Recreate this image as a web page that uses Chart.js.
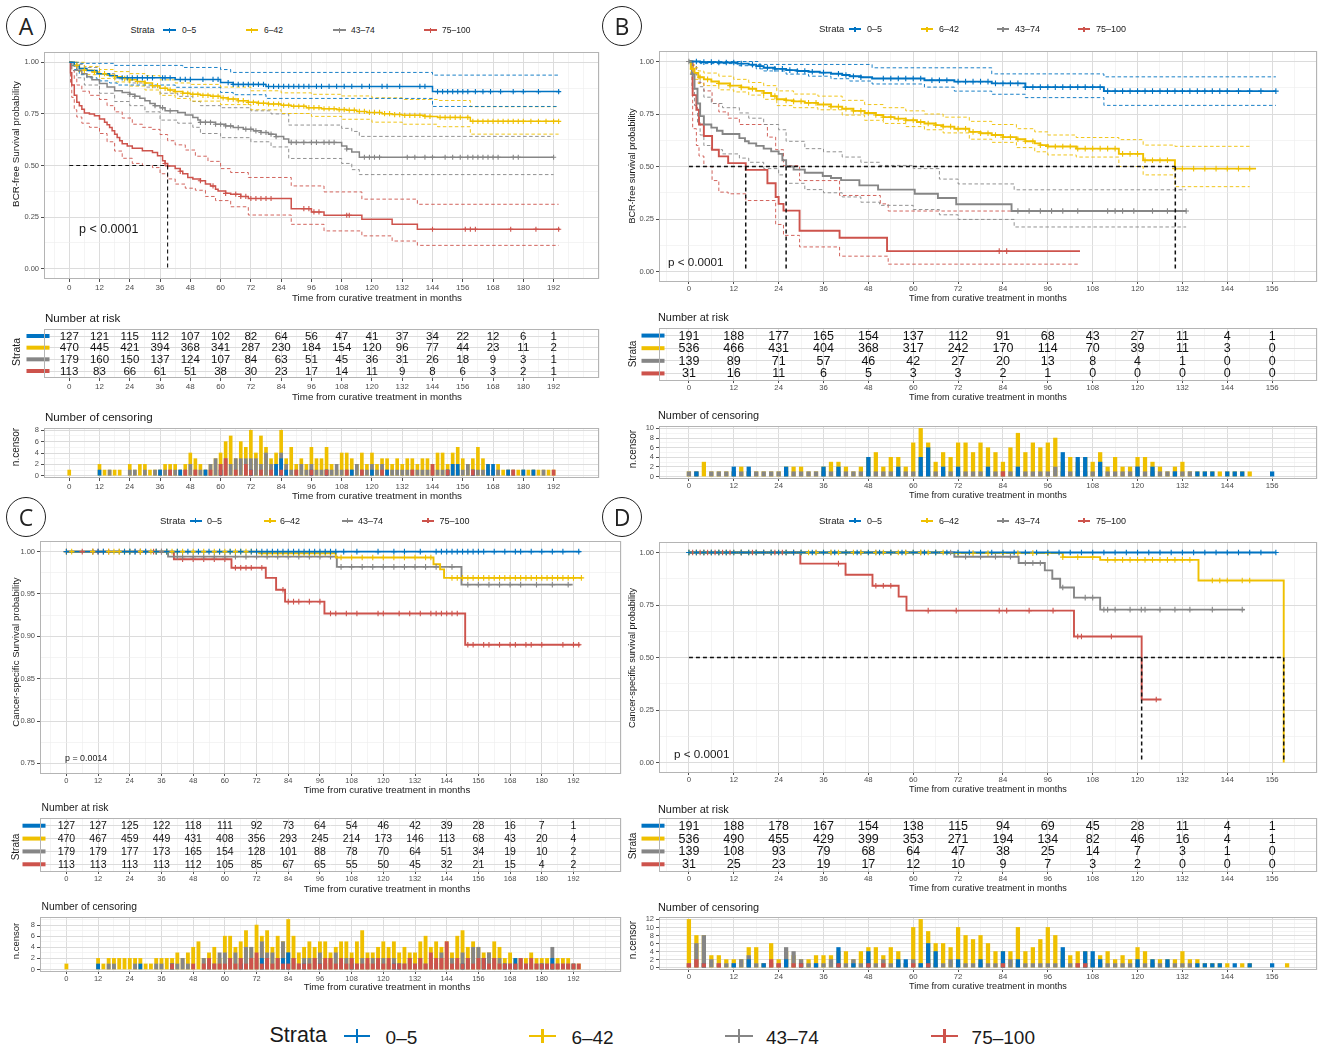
<!DOCTYPE html>
<html>
<head>
<meta charset="utf-8">
<script src="https://cdn.jsdelivr.net/npm/chart.js@4.4.1/dist/chart.umd.min.js"></script>
<style>
  body { margin: 0; background: #fff; width: 1322px; height: 1047px; position: relative; overflow: hidden;
         font-family: "Liberation Sans", Arial, Helvetica, sans-serif; }
  .box { position: absolute; }
  .t { position: absolute; white-space: nowrap; line-height: 1; color: #1a1a1a; }
  .circ { position: absolute; width: 40px; height: 40px; border: 1.2px solid #222; border-radius: 50%;
          display: flex; align-items: center; justify-content: center; box-sizing: border-box;
          font-family: "Open Sans", sans-serif; font-size: 23px; color: #222; }
  .key { position: absolute; }
</style>
</head>
<body>
<script>
// strata colours (JCO palette) and names
const COLORS = ['#0073C2', '#EFC000', '#868686', '#CD534C'];
const STRATA = ['0–5', '6–42', '43–74', '75–100'];
const FONT = '"Liberation Sans", Arial, Helvetica, sans-serif';
const GRID_MAJOR = '#dcdcdc';
const GRID_MINOR = '#ededed';

// tick labels
const xTicksLong = [0, 12, 24, 36, 48, 60, 72, 84, 96, 108, 120, 132, 144, 156, 168, 180, 192];
const xTicksShort = [0, 12, 24, 36, 48, 60, 72, 84, 96, 108, 120, 132, 144, 156];
const survTicks = [0, 0.25, 0.5, 0.75, 1];
const cssTicksC = [0.75, 0.8, 0.85, 0.9, 0.95, 1];

// ---------- Panel A: BCR-free survival (KM steps as [month, survival]) ----------
const aBlue = [[0,1],[2,0.985],[4,0.97],[7,0.96],[11,0.945],[16,0.935],[19,0.925],[42,0.917],[60,0.902],[65,0.893],[78,0.883],[144,0.858],[194.5,0.858]];
const aYellow = [[0,1],[2,0.985],[4,0.97],[6,0.962],[9,0.953],[12,0.945],[15,0.937],[18,0.93],[21,0.922],[24,0.915],[27,0.907],[30,0.9],[33,0.887],[36,0.874],[39,0.866],[42,0.858],[45,0.85],[48,0.845],[52,0.84],[56,0.835],[60,0.828],[63,0.822],[67,0.814],[71,0.806],[75,0.802],[79,0.798],[84,0.792],[88,0.787],[94,0.78],[100,0.775],[106,0.771],[110,0.768],[114,0.762],[118,0.757],[124,0.751],[128,0.747],[132,0.743],[141,0.738],[146,0.733],[159,0.714],[194,0.714]];
const aGrey = [[0,1],[1,0.985],[3,0.962],[5,0.945],[7,0.93],[9,0.915],[12,0.897],[15,0.88],[18,0.862],[21,0.854],[24,0.845],[26,0.835],[28,0.826],[30,0.814],[32,0.8],[34,0.79],[36,0.78],[38,0.765],[43,0.757],[46,0.745],[49,0.733],[51,0.72],[52,0.709],[58,0.7],[62,0.692],[65,0.684],[69,0.676],[73,0.668],[76,0.66],[79,0.652],[82,0.64],[85,0.628],[87,0.612],[108,0.595],[110,0.58],[112,0.565],[115,0.54],[192,0.54]];
const aRed = [[0,1],[0.5,0.95],[1,0.89],[2,0.84],[3,0.806],[4,0.79],[5,0.773],[6,0.755],[8,0.749],[10,0.741],[12,0.725],[14,0.709],[15,0.697],[16,0.684],[17,0.668],[18,0.652],[19,0.636],[20,0.62],[21,0.605],[23,0.595],[25,0.583],[29,0.571],[33,0.563],[35,0.547],[37,0.523],[38,0.51],[39,0.498],[42,0.485],[44,0.472],[45,0.46],[47,0.442],[49,0.434],[52,0.426],[54,0.41],[56,0.401],[58,0.385],[59,0.377],[62,0.365],[64,0.361],[68,0.35],[71,0.34],[88,0.291],[96,0.275],[101,0.259],[116,0.239],[128,0.215],[138,0.191],[194.5,0.191]];
const aBlueUp = [[0,1],[4,0.995],[18,0.985],[45,0.975],[60,0.965],[64,0.951],[144,0.938],[194,0.938]];
const aBlueLo = [[0,1],[2,0.965],[4,0.94],[7,0.925],[11,0.91],[16,0.9],[19,0.89],[42,0.879],[60,0.854],[65,0.843],[78,0.825],[144,0.786],[194,0.786]];
const aYellowUp = [[0,1],[6,0.98],[12,0.965],[18,0.955],[24,0.945],[30,0.935],[36,0.915],[42,0.9],[48,0.893],[60,0.88],[72,0.862],[84,0.852],[96,0.845],[108,0.837],[120,0.828],[132,0.82],[146,0.815],[159,0.785],[194,0.785]];
const aYellowLo = [[0,1],[3,0.955],[6,0.94],[12,0.922],[18,0.905],[24,0.885],[30,0.866],[36,0.84],[42,0.825],[48,0.812],[60,0.795],[72,0.77],[84,0.752],[96,0.738],[108,0.724],[120,0.71],[132,0.7],[146,0.688],[159,0.652],[194,0.652]];
const aGreyUp = [[0,1],[3,0.99],[6,0.975],[12,0.945],[18,0.92],[24,0.9],[30,0.88],[36,0.85],[43,0.835],[49,0.81],[52,0.79],[60,0.78],[72,0.765],[80,0.75],[87,0.696],[108,0.68],[112,0.665],[115,0.641],[192,0.641]];
const aGreyLo = [[0,1],[1,0.96],[3,0.925],[6,0.89],[12,0.85],[18,0.81],[24,0.79],[30,0.76],[36,0.72],[43,0.705],[49,0.685],[52,0.655],[60,0.635],[72,0.615],[80,0.59],[87,0.534],[108,0.51],[112,0.48],[115,0.456],[192,0.456]];
const aRedUp = [[0,1],[1,0.96],[2,0.92],[3,0.89],[5,0.86],[8,0.84],[12,0.82],[15,0.79],[18,0.76],[21,0.73],[25,0.7],[29,0.685],[33,0.675],[36,0.65],[39,0.62],[42,0.6],[46,0.575],[50,0.545],[55,0.52],[60,0.485],[64,0.466],[71,0.442],[88,0.401],[101,0.372],[116,0.337],[138,0.312],[194,0.312]];
const aRedLo = [[0,1],[0.5,0.9],[1,0.83],[2,0.77],[3,0.735],[5,0.705],[8,0.685],[12,0.655],[15,0.615],[18,0.57],[21,0.535],[25,0.51],[29,0.5],[33,0.49],[36,0.46],[39,0.435],[42,0.41],[46,0.39],[50,0.38],[54,0.35],[58,0.33],[64,0.3],[71,0.26],[88,0.215],[101,0.183],[116,0.159],[128,0.134],[138,0.113],[194,0.113]];
const aCensBlue = [21,23,25,27,29,31,33,37,38,40,44,46,48,53,57,59,63,65,67,69,71,73,75,77,79,81,83,85,87,89,91,93,95,98,100,103,106,109,112,116,119,124,126,131,139,141,146,148,150,152,154,156,158,161,164,167,171,176,180,186,194];
const aCensYellow = [3,6,10,14,18,22,24,27,30,33,35,38,40,42,45,47,49,51,53,55,57,59,61,63,65,67,69,71,73,75,77,79,81,83,85,87,89,91,93,95,97,99,101,103,105,107,109,111,113,115,117,119,121,123,125,127,129,131,133,135,137,139,141,143,147,149,151,153,155,158,160,162,164,166,168,170,172,174,176,178,180,183,186,189,192,194];
const aCensGrey = [24,26,34,37,40,52,54,56,58,60,62,64,67,70,72,74,76,78,80,82,88,90,93,96,98,101,103,105,110,117,119,121,123,134,137,141,144,149,152,155,158,160,162,164,166,168,170,176,178,192];
const aCensRed = [38,39,44,52,57,62,66,68,70,72,74,76,78,80,93,95,97,99,110,111,144,157,159,161,175,185,194];
const aMedians = [39];
const aRiskBlue = [127,121,115,112,107,102,82,64,56,47,41,37,34,22,12,6,1];
const aRiskYellow = [470,445,421,394,368,341,287,230,184,154,120,96,77,44,23,11,2];
const aRiskGrey = [179,160,150,137,124,107,84,63,51,45,36,31,26,18,9,3,1];
const aRiskRed = [113,83,66,61,51,38,30,23,17,14,11,9,8,6,3,2,1];
// censoring counts per 2-month bin (0, 2, 4 ... months)
const aNcBlue = [0,0,0,0,0,0,1,0,0,0, 0,0,0,0,0,0,0,0,1,0, 0,0,1,0,0,0,0,1,0,0, 1,0,0,0,0,0,1,0,0,0, 0,2,3,1,0,0,0,0,1,0, 0,1,0,0,0,0,1,0,0,0, 1,0,0,1,0,0,0,0,0,0, 0,0,0,0,0,1,2,2,0,0, 1,0,0,2,2,0,0,1,0,0, 1,0,1,0,0,0,0,0];
const aNcYellow = [1,0,0,0,0,0,2,1,1,1, 1,0,2,1,2,2,1,1,1,2, 2,2,1,2,4,3,2,1,2,3, 4,6,7,3,6,5,8,4,7,5, 3,4,8,3,5,2,3,2,5,3, 3,5,2,1,4,4,3,2,4,2, 4,2,3,3,2,3,2,3,3,2, 3,3,2,4,4,2,4,5,3,2, 3,5,3,2,1,2,1,1,1,1, 1,1,1,1,1,1,1,0];
const aNcGrey = [0,0,0,0,0,0,0,0,1,0, 0,0,1,1,0,1,0,1,1,1, 1,1,1,1,2,1,1,1,2,3, 2,3,2,3,3,3,3,3,2,4, 2,2,4,2,1,1,2,1,2,1, 1,1,1,2,1,1,1,2,1,1, 2,1,2,1,1,1,1,1,1,1, 1,1,1,1,1,1,2,1,1,2, 1,1,1,1,1,1,0,1,1,0, 1,0,1,0,1,0,0,0];
const aNcRed = [0,0,0,0,0,0,0,0,0,0, 0,0,0,0,0,0,0,0,0,0, 1,0,0,1,0,1,0,0,1,0, 2,3,0,1,0,2,1,0,1,0, 1,0,1,0,0,1,0,0,1,0, 0,1,0,0,0,1,0,0,1,0, 0,0,1,0,0,0,0,0,1,0, 0,0,2,0,0,1,0,0,0,0, 1,0,0,0,0,0,0,0,1,0, 0,0,0,0,0,0,1,0];

// ---------- Panel B: BCR-free survival ----------
const bBlue = [[0,1],[3,0.997],[8,0.995],[13,0.99],[16,0.985],[18,0.978],[20,0.97],[23,0.965],[26,0.959],[29,0.955],[32,0.951],[35,0.947],[38,0.942],[41,0.936],[43,0.93],[46,0.925],[49,0.919],[63,0.911],[71,0.904],[81,0.896],[90,0.878],[111,0.859],[157,0.859]];
const bYellow = [[0,1],[0.5,0.965],[1.5,0.945],[2.5,0.925],[4,0.915],[6,0.905],[8,0.895],[11,0.885],[14,0.877],[16,0.87],[18,0.86],[20,0.85],[22,0.835],[23.5,0.82],[26,0.815],[28,0.81],[31,0.803],[34.5,0.795],[38,0.785],[41,0.775],[44,0.765],[47,0.755],[50,0.745],[52,0.735],[55,0.728],[58,0.72],[61,0.712],[63,0.705],[66,0.697],[68,0.69],[71,0.68],[75,0.665],[78,0.658],[81,0.65],[84,0.64],[87.6,0.63],[90,0.62],[92.5,0.61],[94,0.602],[96,0.595],[103.6,0.585],[115,0.56],[121.5,0.53],[130,0.49],[151.7,0.49]];
const bGrey = [[0,1],[0.8,0.94],[1.5,0.87],[2.3,0.8],[3,0.74],[4,0.7],[6,0.685],[7.5,0.67],[9,0.655],[13.5,0.635],[15,0.62],[16,0.61],[18,0.598],[20,0.585],[22,0.572],[24,0.56],[25,0.53],[26,0.5],[28,0.485],[31,0.47],[35.8,0.455],[38,0.445],[40.7,0.435],[45.6,0.41],[50.6,0.39],[60.4,0.37],[66.6,0.35],[71.5,0.32],[86.3,0.288],[133,0.288]];
const bRed = [[0,1],[1,0.84],[2,0.77],[2.7,0.7],[4,0.645],[6.2,0.58],[8,0.548],[10.5,0.516],[15.2,0.484],[21,0.42],[23.2,0.355],[24,0.322],[25.3,0.29],[29.6,0.194],[40.3,0.161],[53,0.097],[104.6,0.097]];
const bBlueUp = [[0,1],[18.5,0.986],[49,0.97],[81,0.941],[111,0.927],[157,0.927]];
const bBlueLo = [[0,1],[3,0.99],[13,0.98],[18,0.965],[20,0.955],[26,0.94],[32,0.93],[38,0.918],[43,0.907],[49,0.893],[63,0.878],[71,0.859],[81,0.844],[90,0.828],[111,0.791],[157,0.791]];
const bYellowUp = [[0,1],[0.5,0.985],[1.5,0.97],[2.5,0.955],[4,0.945],[8,0.93],[12,0.915],[16,0.9],[20,0.885],[23.5,0.86],[28,0.845],[34.5,0.835],[41,0.815],[47,0.795],[52,0.78],[58,0.765],[63,0.75],[68,0.735],[75,0.715],[81,0.7],[87.6,0.68],[92.5,0.665],[96,0.65],[103.6,0.638],[115,0.628],[121.5,0.602],[130,0.596],[150,0.596]];
const bYellowLo = [[0,1],[0.5,0.94],[1.5,0.915],[2.5,0.895],[4,0.885],[8,0.865],[12,0.855],[16,0.84],[20,0.82],[23.5,0.79],[28,0.78],[34.5,0.77],[41,0.745],[47,0.72],[52,0.705],[58,0.69],[63,0.675],[68,0.66],[75,0.63],[81,0.615],[87.6,0.59],[92.5,0.57],[96,0.555],[103.6,0.545],[115,0.5],[121.5,0.46],[130,0.404],[150,0.404]];
const bGreyUp = [[0,1],[1,0.98],[2,0.93],[3,0.88],[4,0.83],[6,0.8],[9,0.78],[13.5,0.755],[16,0.73],[20,0.7],[24,0.675],[26,0.62],[31,0.585],[36,0.57],[41,0.545],[46,0.52],[51,0.505],[60,0.49],[67,0.44],[72,0.417],[87,0.389],[133,0.389]];
const bGreyLo = [[0,1],[0.8,0.87],[1.5,0.79],[2.3,0.71],[3,0.65],[4,0.6],[6,0.58],[9,0.56],[13.5,0.54],[16,0.52],[20,0.49],[24,0.46],[26,0.42],[31,0.39],[36,0.375],[41,0.355],[46,0.33],[51,0.315],[60,0.295],[67,0.27],[72,0.248],[87,0.212],[133,0.212]];
const bRedUp = [[0,1],[1,0.98],[2,0.94],[2.7,0.9],[4,0.86],[6.2,0.8],[8,0.76],[10.5,0.73],[13.5,0.7],[21,0.64],[23.2,0.58],[25.3,0.504],[29.6,0.433],[40.3,0.362],[51.2,0.322],[53.3,0.288],[104.6,0.288]];
const bRedLo = [[0,1],[1,0.68],[2,0.6],[2.7,0.55],[4,0.5],[6.2,0.433],[8,0.378],[10.5,0.37],[15.2,0.338],[23.2,0.224],[25.3,0.172],[29.6,0.117],[40.3,0.073],[53.3,0.035],[104.6,0.035]];
const bCensBlue = [2,4,6,8,10,12,14,17,19,21,23,25,27,29,31,33,36,40,42,44,46,52,54,56,58,60,62,65,67,69,72,74,76,78,80,82,84,86,88,90,92,94,96,98,100,102,104,106,108,110,112,114,116,118,120,122,124,126,128,130,132,134,136,138,140,142,144,147,150,153,157];
const bCensYellow = [1,3,5,8,11,14,17,20,23,26,28,30,32,34,36,38,40,42,44,46,48,50,52,54,56,58,60,62,64,66,68,70,72,74,76,78,80,82,84,86,88,90,92,94,96,98,100,102,104,106,108,110,112,114,116,118,120,122,124,126,128,130,132,135,138,141,144,147,150];
const bCensGrey = [0,1,88,91,94,97,100,104,112,114,116,119,124,128,133];
const bCensRed = [83,85];
const bMedians = [15.2, 26, 130.1];
const bRiskBlue = [191,188,177,165,154,137,112,91,68,43,27,11,4,1];
const bRiskYellow = [536,466,431,404,368,317,242,170,114,70,39,11,3,0];
const bRiskGrey = [139,89,71,57,46,42,27,20,13,8,4,1,0,0];
const bRiskRed = [31,16,11,6,5,3,3,2,1,0,0,0,0,0];
const bNcBlue = [0,1,0,0,0,0,2,0,2,0, 0,0,0,2,0,0,0,0,2,0, 2,0,0,0,4,0,0,0,2,0, 0,4,6,0,2,0,2,0,0,0, 2,0,0,0,2,0,0,0,0,0, 5,0,4,4,0,3,0,0,0,0, 2,0,2,0,0,1,0,0,1,1, 1,0,1,1,1,0,0,0,1];
const bNcYellow = [1,1,3,1,1,1,1,2,1,1, 1,1,1,2,2,2,1,1,2,3, 3,2,1,2,4,5,2,4,4,2, 7,10,7,3,5,4,7,7,5,7, 6,5,3,6,9,5,7,6,7,8, 3,4,3,4,3,5,2,4,2,2, 4,4,3,2,1,2,3,1,1,1, 1,1,1,1,1,1,0,0,0];
const bNcGrey = [1,1,0,1,1,1,1,1,1,1, 1,1,1,1,1,1,1,1,1,1, 1,1,1,1,1,1,1,1,1,1, 1,1,1,1,1,1,1,1,1,1, 1,1,1,1,1,1,1,1,1,2, 1,1,1,1,1,1,1,1,1,1, 2,1,1,1,1,1,1,1,0,0, 0,0,0,0,0,0,0,0,0];
const bNcRed = [0,0,0,0,0,0,0,0,0,0, 0,0,0,0,0,0,0,0,0,0, 0,0,0,0,0,0,0,0,0,0, 0,0,0,0,0,0,0,0,0,0, 0,0,1,0,0,0,0,0,0,0, 0,0,0,0,0,0,0,0,0,0, 0,0,0,0,0,0,0,0,0,0, 0,0,0,0,0,0,0,0,0];

// ---------- Panel C: cancer-specific survival ----------
const cBlue = [[0,1],[194.6,1]];
const cYellow = [[0,1],[73,0.998],[102,0.993],[139,0.985],[141.5,0.979],[143,0.969],[195.3,0.969]];
const cGrey = [[0,1],[38.5,0.994],[102.4,0.982],[149.6,0.961],[191.7,0.961]];
const cRed = [[0,1],[40.7,0.991],[62.5,0.981],[75.5,0.969],[79.4,0.955],[82.8,0.941],[97.7,0.927],[151,0.89],[194.6,0.89]];
const cCensBlue = [0,12,14,22,24,26,30,34,38,42,46,50,54,58,62,66,70,72,74,76,78,80,82,84,86,88,90,92,94,96,98,100,102,105,110,118,124,128,134,140,142,144,146,148,150,152,154,156,158,162,166,170,172,176,180,184,188,194];
const cCensYellow = [0,2,10,16,18,20,22,24,28,32,34,38,40,42,44,48,52,56,58,60,62,64,66,68,70,72,74,76,78,80,82,84,86,88,90,92,94,96,98,100,104,108,112,116,120,124,128,132,136,138,146,148,150,152,154,156,158,160,162,164,166,168,170,172,174,176,178,180,182,184,186,188,190,192,195];
const cCensGrey = [10,14,20,24,26,28,30,34,36,38,42,44,48,52,56,60,64,68,72,76,80,84,88,92,96,100,104,108,112,116,120,124,128,132,136,140,146,152,156,160,164,168,172,178,184,190];
const cCensRed = [0,6,10,12,16,28,33,36,44,48,52,56,60,64,66,68,70,74,82,84,86,88,92,96,100,102,106,110,118,120,126,130,134,138,140,142,144,146,148,152,154,158,160,164,168,170,174,176,180,188,192,194];
const cRiskBlue = [127,127,125,122,118,111,92,73,64,54,46,42,39,28,16,7,1];
const cRiskYellow = [470,467,459,449,431,408,356,293,245,214,173,146,113,68,43,20,4];
const cRiskGrey = [179,179,177,173,165,154,128,101,88,78,70,64,51,34,19,10,2];
const cRiskRed = [113,113,113,113,112,105,85,67,65,55,50,45,32,21,15,4,2];
const cNcBlue = [0,0,0,0,0,0,1,0,0,0, 0,0,0,0,1,0,0,0,0,0, 1,0,0,0,0,0,0,1,0,0, 0,0,0,1,0,0,0,2,0,0, 0,2,3,0,0,1,0,0,1,0, 0,0,0,0,1,0,0,0,0,0, 0,0,1,1,0,0,0,0,0,0, 0,0,0,0,0,1,0,0,0,2, 0,0,0,1,0,2,0,0,0,0, 1,0,2,0,0,0,1,0];
const cNcYellow = [1,0,0,0,0,0,2,1,2,2, 2,2,2,2,2,1,1,2,2,2, 2,3,2,3,4,5,2,3,4,2, 6,6,4,5,7,4,8,6,7,4, 6,5,9,6,3,4,5,4,5,5, 3,4,5,5,3,5,7,3,3,4, 5,4,5,3,4,3,3,5,6,4, 5,4,5,3,6,7,4,5,4,3, 3,5,4,2,3,2,2,2,3,2, 2,2,1,2,2,2,1,1];
const cNcGrey = [0,0,0,0,0,0,0,0,1,1, 0,0,0,1,0,0,0,1,1,0, 1,1,2,1,0,0,2,0,1,3, 3,2,3,2,4,4,2,5,3,3, 2,5,3,2,1,2,2,2,3,1, 2,3,1,2,2,1,2,1,2,1, 2,1,2,1,1,2,1,2,1,2, 1,3,2,2,1,3,2,4,4,2, 3,2,2,1,1,1,2,1,1,1, 1,1,4,1,1,1,0,0];
const cNcRed = [0,0,0,0,0,0,0,0,0,0, 0,0,0,0,0,0,0,0,0,0, 1,0,0,0,1,0,1,2,1,1, 1,2,1,2,1,2,3,1,2,1, 2,1,1,2,1,1,1,2,1,2, 2,1,2,1,2,1,1,2,1,2, 1,2,1,1,1,2,1,2,1,3, 2,2,5,1,2,1,2,1,2,2, 1,2,1,1,1,1,2,1,2,1, 1,1,1,1,1,1,1,1];

// ---------- Panel D: cancer-specific survival ----------
const dBlue = [[0,1],[157,1]];
const dYellow = [[0,1],[69,0.997],[100,0.978],[110,0.965],[136.3,0.867],[159.1,0]];
const dGrey = [[0,1],[71,0.98],[88.2,0.95],[95.2,0.915],[97.2,0.875],[99.3,0.833],[103,0.785],[110,0.728],[148.6,0.728]];
const dRed = [[0,1],[29.8,0.947],[41.9,0.894],[49.1,0.842],[56.1,0.79],[58.2,0.723],[103,0.6],[121.1,0.3],[126.4,0.3]];
const dCensBlue = [0,2,4,6,8,10,12,14,16,18,20,22,24,26,28,30,33,36,39,42,45,48,51,54,57,60,63,66,69,72,75,78,81,84,87,90,93,96,99,102,105,108,111,114,117,120,123,126,129,132,135,138,141,144,147,150,153,157];
const dCensYellow = [0,2,4,6,8,10,12,14,16,18,20,22,24,26,28,30,32,34,36,38,40,42,44,46,48,50,52,54,56,58,60,62,64,66,68,72,76,80,84,88,92,96,100,104,108,112,114,116,118,120,122,124,126,128,130,132,134,140,142,144,148,150];
const dCensGrey = [0,2,4,6,8,10,14,18,22,26,30,34,38,42,46,50,54,58,62,66,70,74,78,82,86,90,92,94,100,106,108,111,112,114,118,121,122,126,130,134,140,148];
const dCensRed = [1,3,5,7,9,11,14,17,20,23,25,28,40,50,52,54,64,71.5,83,85,91,97.4,104,105,113,125];
const dMedians = [121.1, 159.1];
const dRiskBlue = [191,188,178,167,154,138,115,94,69,45,28,11,4,1];
const dRiskYellow = [536,490,455,429,399,353,271,194,134,82,46,16,4,1];
const dRiskGrey = [139,108,93,79,68,64,47,38,25,14,7,3,1,0];
const dRiskRed = [31,25,23,19,17,12,10,9,7,3,2,0,0,0];
const dNcBlue = [0,0,1,0,0,0,1,0,2,0, 1,0,0,2,0,1,0,1,0,0, 5,0,1,0,4,0,0,0,2,2, 0,1,6,4,0,0,2,0,0,2, 0,0,4,0,2,0,0,0,0,0, 5,0,0,4,4,2,0,0,0,0, 2,0,2,0,2,0,0,0,1,1, 1,1,0,1,0,1,0,0,1,0, 0];
const dNcYellow = [12,8,8,3,3,2,2,2,5,5, 1,6,2,4,3,2,2,3,3,3, 4,4,2,4,5,5,3,5,4,1, 10,12,9,6,6,5,10,8,7,8, 6,4,4,4,10,4,5,7,10,8, 4,3,4,4,2,3,4,2,3,2, 5,4,2,2,2,2,4,2,2,1, 1,1,1,0,1,1,0,0,0,0, 1];
const dNcGrey = [1,6,8,2,1,1,1,2,3,1, 1,1,1,5,4,2,1,1,1,2, 1,1,2,1,2,1,2,1,1,1, 2,1,2,1,1,2,1,1,1,1, 1,1,1,2,1,1,1,1,1,1, 2,1,1,1,1,1,1,1,1,1, 1,1,1,1,1,1,1,1,0,0, 0,0,0,0,0,0,0,0,0,0, 0];
const dNcRed = [1,2,1,0,1,0,0,0,0,0, 0,2,1,0,1,1,0,0,0,0, 1,0,0,0,1,0,1,0,0,0, 1,0,1,0,0,0,0,0,0,0, 0,0,1,0,0,0,0,0,0,0, 0,0,1,1,0,0,0,0,0,0, 0,0,0,0,0,0,0,0,0,0, 0,0,0,0,0,0,0,0,0,0, 0];

// ---------- helpers ----------
Chart.defaults.font.family = FONT;
Chart.defaults.animation = false;
Chart.defaults.events = [];
Chart.defaults.plugins.legend.display = false;
Chart.defaults.plugins.tooltip.enabled = false;

const toPts = (arr) => arr.map(([x, y]) => ({ x, y }));
function survAt(curve, t) {
  let s = curve[0][1];
  for (const [x, y] of curve) { if (x <= t) s = y; else break; }
  return s;
}
function range(min, max, step) {
  const out = [];
  for (let v = Math.ceil(min / step - 1e-9) * step; v <= max + 1e-9; v += step) out.push(Math.round(v * 10000) / 10000);
  return out;
}

function axis(pos, min, max, ticks, isMajor, fmt, fontSize, fit, opts = {}) {
  const maj = (c) => c.tick && isMajor(c.tick.value);
  const tl = opts.noTicks ? 0 : (opts.tl ?? 3);
  return {
    type: 'linear', position: pos === 'x' ? 'bottom' : 'left', min, max, offset: false,
    reverse: !!opts.reverse,
    afterBuildTicks: (s) => { s.ticks = ticks.map((v) => ({ value: v })); },
    afterFit: (s) => {
      if (pos === 'x') { s.height = fit; s.paddingLeft = 0; s.paddingRight = 0; }
      else { s.width = fit; s.paddingTop = 0; s.paddingBottom = 0; }
    },
    ticks: {
      autoSkip: false, maxRotation: 0, minRotation: 0, padding: opts.pad ?? 2, color: '#4d4d4d',
      font: { size: fontSize, family: FONT },
      callback: (v) => (isMajor(v) ? fmt(v) : ''),
    },
    grid: {
      offset: false, drawTicks: true, tickLength: tl,
      color: (c) => (maj(c) ? GRID_MAJOR : GRID_MINOR),
      lineWidth: (c) => (maj(c) ? 1 : 0.6),
      tickColor: (c) => (maj(c) && !opts.noTicks ? '#4d4d4d' : 'rgba(0,0,0,0)'),
    },
    border: { display: false },
  };
}
function xAxisFor(p) {
  const labels = p.xTicks;
  return axis('x', p.xr[0], p.xr[1], range(p.xr[0], p.xr[1], 6), (v) => labels.includes(v), (v) => String(v), p.xFont, 14,
    { tl: p.tl, pad: p.pad });
}

const borderPlugin = {
  id: 'panelBorder',
  afterDraw(chart) {
    const a = chart.chartArea, ctx = chart.ctx;
    ctx.save();
    ctx.strokeStyle = '#b4b4b4';
    ctx.lineWidth = 1;
    ctx.strokeRect(Math.round(a.left) + 0.5, Math.round(a.top) + 0.5, Math.round(a.right - a.left) - 1, Math.round(a.bottom - a.top) - 1);
    ctx.restore();
  },
};

function makeChart(rect, config, plugins, yw = 26) {
  const [L, R, T, B] = rect;
  const padTop = 6, xh = 14;
  const w = R - L + yw + 3, h = B - T + padTop + xh;
  const div = document.createElement('div');
  div.className = 'box';
  div.style.left = (L - yw) + 'px';
  div.style.top = (T - padTop) + 'px';
  div.style.width = w + 'px';
  div.style.height = h + 'px';
  const cv = document.createElement('canvas');
  cv.width = w; cv.height = h;
  cv.style.width = w + 'px'; cv.style.height = h + 'px';
  div.appendChild(cv);
  document.body.appendChild(div);
  config.options.responsive = false;
  config.options.maintainAspectRatio = false;
  config.options.devicePixelRatio = 1;
  config.options.layout = { autoPadding: false, padding: { left: 0, top: padTop, right: 3, bottom: 0 } };
  config.plugins = plugins;
  return new Chart(cv, config);
}

// Kaplan-Meier panel
function kmChart(p) {
  const ds = [];
  p.curves.forEach((c, s) => {
    ds.push({ type: 'line', data: toPts(c), stepped: true, borderColor: COLORS[s], borderWidth: p.lw, pointRadius: 0, fill: false, order: 2 });
    ds.push({ type: 'line', showLine: false, data: p.marks[s].map((t) => ({ x: t, y: survAt(c, t) })),
      pointStyle: 'cross', pointRadius: p.markR, pointBorderColor: COLORS[s], pointBackgroundColor: COLORS[s], pointBorderWidth: 1.1, order: 1 });
    if (p.ci) {
      p.ci[s].forEach((band) => ds.push({ type: 'line', data: toPts(band), stepped: true, borderColor: COLORS[s],
        borderWidth: 0.9, borderDash: [3.5, 2.5], pointRadius: 0, fill: false, order: 3 }));
    }
  });
  if (p.medians && p.medians.length) {
    const far = Math.max(...p.medians);
    const med = { type: 'line', borderColor: '#111', borderWidth: p.medLw, borderDash: [4, 3], pointRadius: 0, fill: false, order: 0 };
    ds.push({ ...med, data: [{ x: 0, y: 0.5 }, { x: far, y: 0.5 }] });
    p.medians.forEach((m) => ds.push({ ...med, data: [{ x: m, y: 0.5 }, { x: m, y: 0 }] }));
  }
  makeChart(p.rect, {
    type: 'line',
    data: { datasets: ds },
    options: {
      scales: {
        x: xAxisFor(p),
        y: axis('y', p.yr[0], p.yr[1], p.yTicks, p.yMajor, (v) => v.toFixed(2), 7.5, 26),
      },
    },
  }, [borderPlugin]);
}

// Number-at-risk table
function riskChart(p) {
  const ds = p.risk.map((counts, s) => ({
    type: 'line', showLine: false, pointRadius: 0,
    data: p.xTicks.map((t, i) => ({ x: t, y: s, v: counts[i] })),
  }));
  const riskText = {
    id: 'riskText',
    afterDatasetsDraw(chart) {
      const ctx = chart.ctx, a = chart.chartArea, ys = chart.scales.y;
      ctx.save();
      ctx.font = p.numFont + 'px ' + FONT;
      ctx.fillStyle = '#111';
      ctx.textAlign = 'center';
      ctx.textBaseline = 'middle';
      chart.data.datasets.forEach((d, di) => {
        chart.getDatasetMeta(di).data.forEach((el, i) => ctx.fillText(String(d.data[i].v), el.x, el.y + 0.5));
      });
      // coloured strata keys in place of y labels
      for (let s = 0; s < 4; s++) {
        ctx.fillStyle = COLORS[s];
        ctx.fillRect(a.left - 17.5, ys.getPixelForValue(s) - 2, 23, 4);
      }
      ctx.restore();
    },
  };
  makeChart(p.rect, {
    type: 'line',
    data: { datasets: ds },
    options: {
      scales: {
        x: xAxisFor(p),
        y: axis('y', -0.6, 3.6, [0, 1, 2, 3], () => true, () => '', 7.5, 26, { reverse: true, noTicks: true }),
      },
    },
  }, [riskText, borderPlugin]);
}

// Number of censoring bars
function censorChart(p) {
  const drawOrder = [1, 3, 2, 0]; // yellow behind, red on top
  const ds = p.nc.map((bins, s) => ({
    data: bins.map((v, i) => ({ x: i * 2, y: v })).filter((d) => d.y > 0),
    backgroundColor: COLORS[s], borderWidth: 0, barThickness: p.barW, grouped: false, order: drawOrder[s],
  }));
  const top = p.ncMax;
  makeChart(p.rect, {
    type: 'bar',
    data: { datasets: ds },
    options: {
      scales: {
        x: xAxisFor(p),
        y: axis('y', -top * 0.05, top * 1.05, range(0, top, 1), (v) => v % 2 === 0, (v) => String(v), 7.5, 26),
      },
    },
  }, [borderPlugin]);
}

// ---------- HTML text helpers ----------
function addText(txt, x, y, o = {}) {
  const d = document.createElement('div');
  d.className = 't';
  d.textContent = txt;
  d.style.left = x + 'px';
  d.style.top = y + 'px';
  d.style.fontSize = (o.size || 9) + 'px';
  if (o.color) d.style.color = o.color;
  const ax = o.align === 'center' ? '-50%' : o.align === 'right' ? '-100%' : '0';
  d.style.transform = o.rotate ? 'translate(-50%, -50%) rotate(-90deg)' : `translate(${ax}, -50%)`;
  document.body.appendChild(d);
}
function addKey(x1, x2, y, color, thick, vh, vw) {
  const h = document.createElement('div');
  h.className = 'key';
  Object.assign(h.style, { left: x1 + 'px', top: (y - thick / 2) + 'px', width: (x2 - x1) + 'px', height: thick + 'px', background: color });
  const v = document.createElement('div');
  v.className = 'key';
  Object.assign(v.style, { left: ((x1 + x2) / 2 - vw / 2) + 'px', top: (y - vh / 2) + 'px', width: vw + 'px', height: vh + 'px', background: color });
  document.body.appendChild(h);
  document.body.appendChild(v);
}
function addCircle(letter, cx, cy) {
  const c = document.createElement('div');
  c.className = 'circ';
  c.style.left = (cx - 20) + 'px';
  c.style.top = (cy - 20) + 'px';
  c.textContent = letter;
  document.body.appendChild(c);
}
function panelLegend(y, strataX, keys, labelsX, size) {
  addText('Strata', strataX, y, { size: size + 0.5 });
  keys.forEach((k, s) => {
    addKey(k[0], k[1], y, COLORS[s], 2, 5, 1.3);
    addText(STRATA[s], labelsX[s], y, { size });
  });
}

// ---------- build the four panels ----------
const ySurv = range(0, 1, 0.125);
const survMajor = (v) => survTicks.some((t) => Math.abs(t - v) < 1e-6);
const yCss = range(0.75, 1, 0.025);
const cssMajor = (v) => cssTicksC.some((t) => Math.abs(t - v) < 1e-6);

const A = { xr: [-10, 210], xTicks: xTicksLong, xFont: 8, tl: 3, pad: 1 };
const B = { xr: [-8, 168], xTicks: xTicksShort, xFont: 7.8, tl: 2, pad: 0 };
const C = { xr: [-10, 210], xTicks: xTicksLong, xFont: 7.5, tl: 2, pad: 0.5 };
const D = { xr: [-8, 168], xTicks: xTicksShort, xFont: 7.8, tl: 2, pad: 0.5 };

kmChart({ ...A, rect: [44, 599, 52, 279], yr: [-0.05, 1.05], yTicks: ySurv, yMajor: survMajor,
  curves: [aBlue, aYellow, aGrey, aRed], marks: [aCensBlue, aCensYellow, aCensGrey, aCensRed],
  ci: [[aBlueUp, aBlueLo], [aYellowUp, aYellowLo], [aGreyUp, aGreyLo], [aRedUp, aRedLo]],
  medians: aMedians, lw: 1.5, markR: 2.6, medLw: 1.1 });
riskChart({ ...A, rect: [44, 599, 329, 378], risk: [aRiskBlue, aRiskYellow, aRiskGrey, aRiskRed], numFont: 11.5 });
censorChart({ ...A, rect: [44, 599, 428, 478], nc: [aNcBlue, aNcYellow, aNcGrey, aNcRed], ncMax: 8, barW: 3 });

kmChart({ ...B, rect: [659, 1317, 51, 282], yr: [-0.05, 1.05], yTicks: ySurv, yMajor: survMajor,
  curves: [bBlue, bYellow, bGrey, bRed], marks: [bCensBlue, bCensYellow, bCensGrey, bCensRed],
  ci: [[bBlueUp, bBlueLo], [bYellowUp, bYellowLo], [bGreyUp, bGreyLo], [bRedUp, bRedLo]],
  medians: bMedians, lw: 1.9, markR: 2.8, medLw: 1.5 });
riskChart({ ...B, rect: [659, 1317, 328, 381], risk: [bRiskBlue, bRiskYellow, bRiskGrey, bRiskRed], numFont: 12.5 });
censorChart({ ...B, rect: [659, 1317, 426, 479], nc: [bNcBlue, bNcYellow, bNcGrey, bNcRed], ncMax: 10, barW: 3.6 });

kmChart({ ...C, rect: [40, 621, 541, 774], yr: [0.7375, 1.0125], yTicks: yCss, yMajor: cssMajor,
  curves: [cBlue, cYellow, cGrey, cRed], marks: [cCensBlue, cCensYellow, cCensGrey, cCensRed],
  ci: null, medians: [], lw: 1.9, markR: 2.8, medLw: 1.2 });
riskChart({ ...C, rect: [40, 621, 818, 872], risk: [cRiskBlue, cRiskYellow, cRiskGrey, cRiskRed], numFont: 10.5 });
censorChart({ ...C, rect: [40, 621, 917, 972], nc: [cNcBlue, cNcYellow, cNcGrey, cNcRed], ncMax: 9, barW: 3.2 });

kmChart({ ...D, rect: [659, 1317, 542, 773], yr: [-0.05, 1.05], yTicks: ySurv, yMajor: survMajor,
  curves: [dBlue, dYellow, dGrey, dRed], marks: [dCensBlue, dCensYellow, dCensGrey, dCensRed],
  ci: null, medians: dMedians, lw: 1.9, markR: 2.8, medLw: 1.5 });
riskChart({ ...D, rect: [659, 1317, 818, 872], risk: [dRiskBlue, dRiskYellow, dRiskGrey, dRiskRed], numFont: 12.5 });
censorChart({ ...D, rect: [659, 1317, 917, 970], nc: [dNcBlue, dNcYellow, dNcGrey, dNcRed], ncMax: 12, barW: 3.6 });

// ---------- texts ----------
addCircle('A', 26, 25.5);
addCircle('B', 622, 25.5);
addCircle('C', 26, 517);
addCircle('D', 622, 517);

panelLegend(30, 130.5, [[163, 176], [245.5, 258], [333, 345.5], [424, 437]], [182, 264, 351, 442], 8.5);
panelLegend(29, 819, [[849, 861], [921, 933], [997, 1009], [1078, 1090]], [867, 939, 1015, 1096], 9);
panelLegend(520.5, 160, [[190, 201.5], [264, 276], [342, 353], [422, 434]], [207, 280, 358, 439.5], 9);
panelLegend(520.5, 819, [[849, 861], [921, 933], [997, 1009], [1078, 1090]], [867, 939, 1015, 1096], 9);

const XTITLE = 'Time from curative treatment in months';
// panel A
addText('BCR-free Survival probability', 16, 143.5, { size: 9.8, rotate: true });
addText(XTITLE, 377, 298, { size: 9.8, align: 'center' });
addText('p < 0.0001', 79, 229, { size: 12.5 });
addText('Number at risk', 45, 318, { size: 11.6 });
addText('Strata', 16, 352, { size: 10.5, rotate: true });
addText(XTITLE, 377, 397, { size: 9.8, align: 'center' });
addText('Number of censoring', 45, 417, { size: 11.6 });
addText('n.censor', 16, 447, { size: 10, rotate: true });
addText(XTITLE, 377, 496, { size: 9.8, align: 'center' });
// panel B
addText('BCR-free survival probability', 632.5, 166, { size: 9.1, rotate: true });
addText(XTITLE, 988, 299, { size: 9.1, align: 'center' });
addText('p < 0.0001', 668, 262, { size: 11.7 });
addText('Number at risk', 658, 317, { size: 10.9 });
addText('Strata', 632.5, 354, { size: 10, rotate: true });
addText(XTITLE, 988, 397.5, { size: 9.1, align: 'center' });
addText('Number of censoring', 658, 415, { size: 10.9 });
addText('n.censor', 632.5, 449, { size: 10, rotate: true });
addText(XTITLE, 988, 495.5, { size: 9.1, align: 'center' });
// panel C
addText('Cancer-specific Survival probability', 15.5, 652, { size: 9.6, rotate: true });
addText(XTITLE, 387, 789.5, { size: 9.6, align: 'center' });
addText('p = 0.0014', 65, 757.5, { size: 8.9 });
addText('Number at risk', 41.5, 807.5, { size: 10.3 });
addText('Strata', 15.5, 847, { size: 10, rotate: true });
addText(XTITLE, 387, 889, { size: 9.6, align: 'center' });
addText('Number of censoring', 41.5, 906.5, { size: 10.3 });
addText('n.censor', 15.5, 941, { size: 9.5, rotate: true });
addText(XTITLE, 387, 986.5, { size: 9.6, align: 'center' });
// panel D
addText('Cancer-specific survival probability', 632.5, 658, { size: 9.1, rotate: true });
addText(XTITLE, 988, 789.5, { size: 9.1, align: 'center' });
addText('p < 0.0001', 674, 754, { size: 11.7 });
addText('Number at risk', 658, 808.5, { size: 10.9 });
addText('Strata', 632.5, 846, { size: 10, rotate: true });
addText(XTITLE, 988, 888.5, { size: 9.1, align: 'center' });
addText('Number of censoring', 658, 906.5, { size: 10.9 });
addText('n.censor', 632.5, 940, { size: 10, rotate: true });
addText(XTITLE, 988, 986.5, { size: 9.1, align: 'center' });

// shared legend at the bottom
addText('Strata', 269.5, 1036, { size: 21.5 });
[[343.7, 370.3], [529, 556], [725, 752.6], [930.7, 957.8]].forEach((k, s) => addKey(k[0], k[1], 1036, COLORS[s], 2.6, 14, 2.6));
[385.6, 571.4, 766, 971.6].forEach((x, s) => addText(STRATA[s], x, 1036.5, { size: 19 }));
</script>
</body>
</html>
